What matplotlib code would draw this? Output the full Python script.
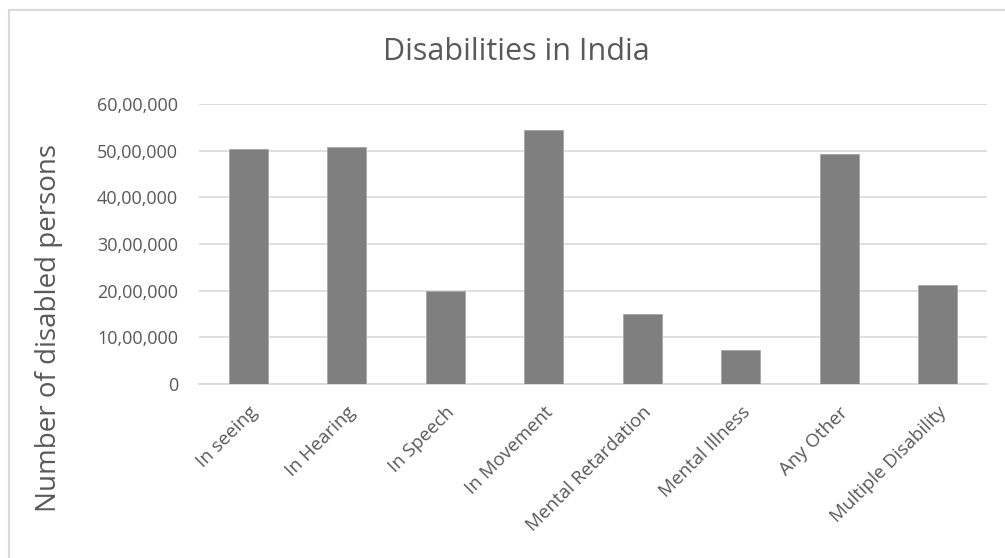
import matplotlib
matplotlib.use("Agg")
import matplotlib.pyplot as plt
from matplotlib.ticker import FuncFormatter
from matplotlib.lines import Line2D

categories = ["In seeing", "In Hearing", "In Speech", "In Movement",
              "Mental Retardation", "Mental Illness", "Any Other", "Multiple Disability"]
values = [5032463, 5071007, 1998535, 5436604, 1505624, 722826, 4927011, 2116487]
yticks = [0, 1000000, 2000000, 3000000, 4000000, 5000000, 6000000]

plt.rcParams['font.family'] = ['Open Sans', 'DejaVu Sans']

def indian(x, pos=None):
    n = int(round(x))
    if n == 0:
        return "0"
    s = str(n)
    last3 = s[-3:]
    rest = s[:-3]
    parts = []
    while len(rest) > 2:
        parts.insert(0, rest[-2:])
        rest = rest[:-2]
    if rest:
        parts.insert(0, rest)
    return ",".join(parts + [last3])

W, H = 1005, 558
fig = plt.figure(figsize=(W / 100, H / 100), dpi=100)
ax = fig.add_axes([199 / W, 1 - 384 / H, (987 - 199) / W, (384 - 104) / H])

x = list(range(len(categories)))
ax.bar(x, values, width=0.4, color="#7f7f7f", edgecolor="#a6a6a6", linewidth=0.6, zorder=3)
ax.set_xlim(-0.5, len(categories) - 0.5)
ax.set_ylim(0, 6000000)
ax.set_yticks(yticks)
ax.yaxis.set_major_formatter(FuncFormatter(indian))
ax.grid(axis="y", color="#d9d9d9", linewidth=1.2, zorder=0)
for sp in ["top", "right", "left"]:
    ax.spines[sp].set_visible(False)
ax.spines["bottom"].set_color("#d9d9d9")
ax.spines["bottom"].set_linewidth(1.2)
ax.tick_params(axis="both", length=0, colors="#595959", labelsize=13)
ax.tick_params(axis="y", pad=15)
ax.tick_params(axis="x", pad=14)
ax.set_xticks(x)
ax.set_xticklabels(categories, rotation=45, ha="right", rotation_mode="anchor",
                   color="#595959", fontsize=13.5)

ax.set_ylabel("Number of disabled persons", fontsize=20, color="#595959")
ax.yaxis.set_label_coords(-0.173, 0.2)
fig.text(516 / W, 1 - 52 / H, "Disabilities in India", fontsize=22, color="#595959",
         ha="center", va="center")

# chart area border (top and left visible)
fig.add_artist(Line2D([9 / W, 1.0], [1 - 10 / H, 1 - 10 / H], color="#d9d9d9", linewidth=1.5,
                      transform=fig.transFigure))
fig.add_artist(Line2D([9 / W, 9 / W], [1 - 10 / H, 0], color="#d9d9d9", linewidth=1.5,
                      transform=fig.transFigure))

fig.savefig("out.png", dpi=100)
